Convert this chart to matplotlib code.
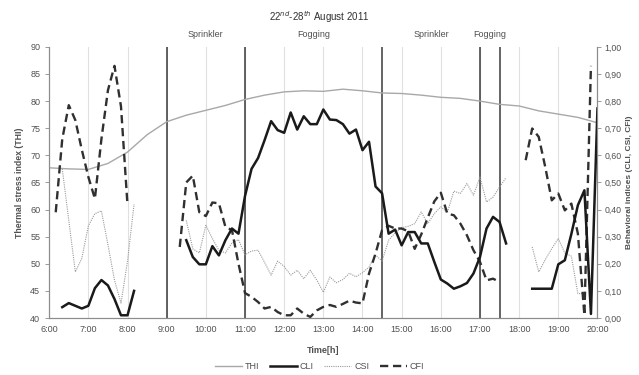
import numpy as np
import matplotlib
matplotlib.use('Agg')
import matplotlib.pyplot as plt
from matplotlib.ticker import FuncFormatter
from matplotlib.lines import Line2D

plt.rcParams['font.family'] = ['Liberation Sans', 'DejaVu Sans']

# ------------------------------------------------------------
#  資料
# ------------------------------------------------------------
thi_time = ['6:00', '6:30', '7:00', '7:30', '8:00', '8:30', '9:00', '9:30', '10:00',
            '10:30', '11:00', '11:30', '12:00', '12:30', '13:00', '13:30', '14:00',
            '14:30', '15:00', '15:30', '16:00', '16:30', '17:00', '17:30', '18:00',
            '18:30', '19:00', '19:30', '20:00']
thi = [67.7, 67.5, 67.4, 68.5, 70.6, 73.8, 76.2, 77.4, 78.3,
       79.2, 80.3, 81.1, 81.7, 81.9, 81.8, 82.2, 81.9,
       81.5, 81.4, 81.1, 80.7, 80.5, 80.0, 79.4, 79.1,
       78.2, 77.6, 77.0, 76.0]

# 每 10 分鐘一筆, 各段給起始時間
cli_start = ['6:20', '9:30', '18:20']
cli = [
    [0.04, 0.055, 0.045, 0.035, 0.045, 0.11, 0.14, 0.12, 0.07, 0.01, 0.01, 0.10],
    [0.287, 0.225, 0.198, 0.198, 0.265, 0.231, 0.287, 0.33, 0.311,
     0.45, 0.55, 0.59, 0.656, 0.726, 0.693,
     0.683, 0.758, 0.695, 0.744, 0.715, 0.715,
     0.769, 0.732, 0.73, 0.715, 0.68, 0.695,
     0.619, 0.65, 0.485, 0.46, 0.311, 0.326,
     0.268, 0.317, 0.317, 0.275, 0.275, 0.207,
     0.142, 0.127, 0.108, 0.117, 0.129, 0.164,
     0.225, 0.33, 0.373, 0.354, 0.275],
    [0.108, 0.108, 0.108, 0.108, 0.198, 0.213, 0.31, 0.416, 0.471, 0.015, 0.773],
]

csi_start = ['6:20', '9:30', '18:20']
csi = [
    [0.55, 0.36, 0.17, 0.22, 0.34, 0.385, 0.395, 0.27, 0.14, 0.055, 0.21, 0.42],
    [0.36, 0.255, 0.24, 0.342, 0.293, 0.25, 0.24, 0.277, 0.289,
     0.233, 0.247, 0.25, 0.205, 0.158, 0.21,
     0.19, 0.158, 0.176, 0.145, 0.176, 0.14,
     0.095, 0.151, 0.13, 0.142, 0.165, 0.152,
     0.167, 0.188, 0.232, 0.21, 0.287, 0.314,
     0.333, 0.338, 0.348, 0.391, 0.348, 0.385,
     0.41, 0.39, 0.468, 0.459, 0.496, 0.453,
     0.52, 0.428, 0.446, 0.483, 0.518],
    [0.262, 0.17, 0.215, 0.256, 0.293, 0.24, 0.228, 0.09, 0.09],
]

cfi_start = ['6:10', '9:20', '18:10']
cfi = [
    [0.39, 0.66, 0.785, 0.73, 0.62, 0.52, 0.44, 0.66, 0.84, 0.93, 0.78, 0.415],
    [0.262, 0.50, 0.525, 0.39, 0.376, 0.426, 0.423, 0.336, 0.324, 0.2,
     0.092, 0.078, 0.059, 0.035, 0.041, 0.022,
     0.01, 0.01, 0.035, 0.016, 0.004, 0.028,
     0.041, 0.048, 0.041, 0.052, 0.064, 0.057,
     0.054, 0.164, 0.238, 0.324, 0.34, 0.33,
     0.33, 0.32, 0.255, 0.308, 0.37, 0.43,
     0.462, 0.385, 0.379, 0.348, 0.305, 0.25,
     0.207, 0.139, 0.145, 0.133],
    [0.582, 0.699, 0.668, 0.557, 0.434, 0.459, 0.397, 0.422, 0.311, 0.01, 0.93],
]

event_lines = ['9:00', '11:00', '14:30', '17:00', '17:30']
event_labels = ['Sprinkler', 'Fogging', 'Sprinkler', 'Fogging']
hour_ticks = ['6:00', '7:00', '8:00', '9:00', '10:00', '11:00', '12:00', '13:00',
              '14:00', '15:00', '16:00', '17:00', '18:00', '19:00', '20:00']


def to_h(s):
    """'9:30' -> 9.5"""
    h, m = s.split(':')
    return int(h) + int(m) / 60.0


def seg_times(start, n):
    return to_h(start) + np.arange(n) / 6.0


# ------------------------------------------------------------
#  繪圖
# ------------------------------------------------------------
fig = plt.figure(figsize=(6.39, 3.75), dpi=100)
ax = fig.add_axes([0.077, 0.152, 0.858, 0.723])
ax2 = ax.twinx()

GRAY = '#8c8c8c'
TXT = '#505050'

# 每小時淡格線
for t in hour_ticks:
    ax.axvline(to_h(t), color='#e0e0e0', lw=0.8, zorder=0)
# 事件分界線
for t in event_lines:
    ax.axvline(to_h(t), color='#3a3a3a', lw=1.1, zorder=1)

ax.plot([to_h(t) for t in thi_time], thi, color='#a8a8a8', lw=1.0, zorder=2)

for st, v in zip(csi_start, csi):
    ax2.plot(seg_times(st, len(v)), v, color='#9a9a9a', lw=0.8, ls=(0, (1, 1)))
for st, v in zip(cfi_start, cfi):
    ax2.plot(seg_times(st, len(v)), v, color='#303030', lw=1.7, ls=(0, (3.5, 2)))
for st, v in zip(cli_start, cli):
    ax2.plot(seg_times(st, len(v)), v, color='#1a1a1a', lw=1.8)

ax.set_xlim(6, 20)
ax.set_ylim(40, 90)
ax2.set_ylim(0, 1)
ax.set_xticks([to_h(t) for t in hour_ticks])
ax.set_xticklabels(hour_ticks)
ax.set_yticks(range(40, 91, 5))
ax2.set_yticks(np.arange(0, 1.01, 0.1))
ax2.yaxis.set_major_formatter(FuncFormatter(lambda v, p: f'{v:.2f}'.replace('.', ',')))

for a in (ax, ax2):
    a.tick_params(labelsize=6.5, colors=TXT, length=3, width=0.6, color=GRAY)
    for sp in a.spines.values():
        sp.set_color(GRAY)
        sp.set_linewidth(0.8)
    a.spines['top'].set_visible(False)
ax.tick_params(axis='x', length=0, pad=5)
ax2.tick_params(axis='y', pad=2, labelsize=6.3)

ax.set_ylabel('Thermal stress index (THI)', fontsize=6.3, fontweight='bold', color=TXT, labelpad=4)
ax2.set_ylabel('Behavioral indices (CLI, CSI, CFI)', fontsize=6.0, fontweight='bold', color=TXT, labelpad=3)
ax.set_xlabel('Time[h]', fontsize=6.5, fontweight='bold', color=TXT, labelpad=9)

# 事件標籤 (兩線中間)
for i, lab in enumerate(event_labels):
    xm = (to_h(event_lines[i]) + to_h(event_lines[i + 1])) / 2
    ax.text(xm, 91.5, lab, ha='center', va='bottom', fontsize=6.5, color=TXT)

fig.text(0.5, 0.955, '22$^{nd}$-28$^{th}$ August 2011', ha='center', va='center',
         fontsize=7, color='#303030')

# 圖例
handles = [
    Line2D([], [], color='#a8a8a8', lw=1.0),
    Line2D([], [], color='#1a1a1a', lw=1.8),
    Line2D([], [], color='#9a9a9a', lw=0.8, ls=(0, (1, 1))),
    Line2D([], [], color='#303030', lw=1.7, ls=(0, (3.5, 2))),
]
leg = fig.legend(handles, ['THI', 'CLI', 'CSI', 'CFI'], loc='center', ncol=4,
                 bbox_to_anchor=(0.5, 0.022), frameon=False, fontsize=6.5,
                 handlelength=3, columnspacing=1.2, handletextpad=0.3)
for t in leg.get_texts():
    t.set_color(TXT)

fig.savefig('out.png', dpi=100)
